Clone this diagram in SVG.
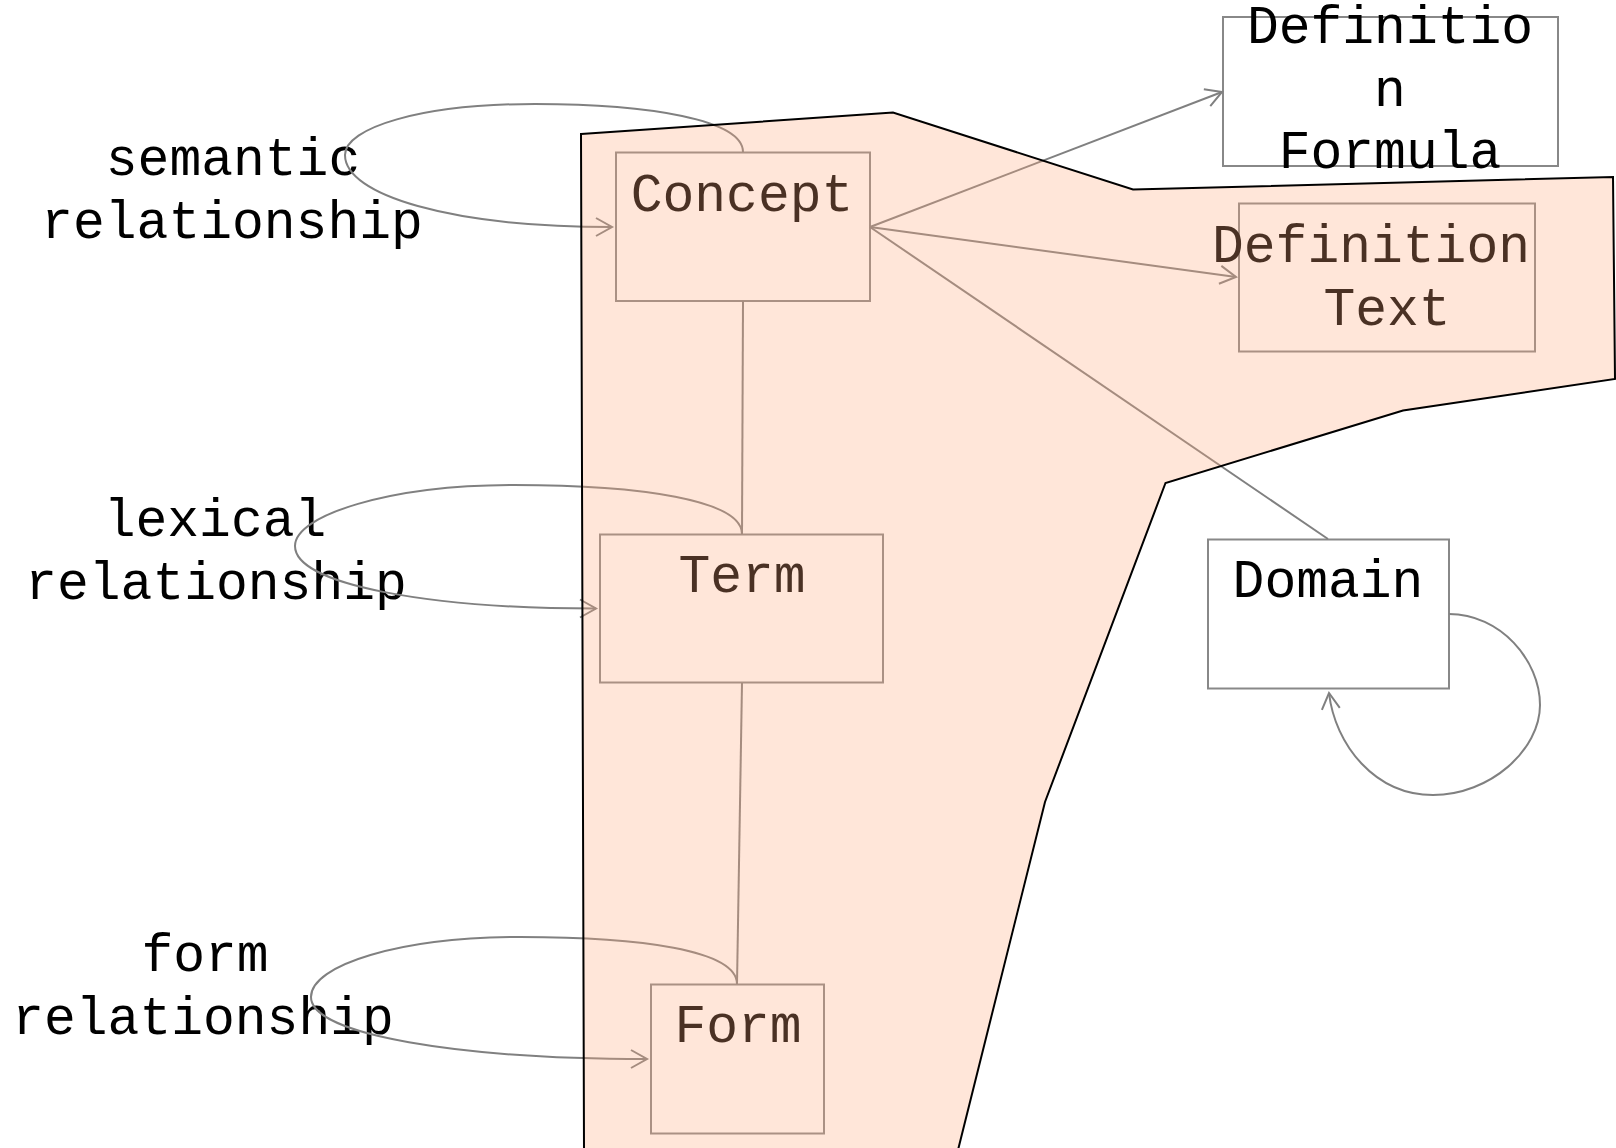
<svg xmlns="http://www.w3.org/2000/svg" width="1616" height="1148" viewBox="0 0 1616 1148">
  <defs>
    <style>
      .box { fill: #ffffff; stroke: #888888; stroke-width: 2; }
      .t { font-family: "Liberation Mono", "Courier New", monospace; font-size: 53px; fill: #000000; text-anchor: middle; }
      .edge { fill: none; stroke: #808080; stroke-width: 2; }
      .region { fill: #ffa97c; fill-opacity: 0.29; stroke: #000000; stroke-width: 2; stroke-linejoin: miter; }
    </style>
    <marker id="arrow" markerUnits="userSpaceOnUse" markerWidth="30" markerHeight="30" viewBox="-20 -15 30 30" refX="0" refY="0" orient="auto">
      <path d="M-16,-9 L0,0 L-16,9" fill="none" stroke="#808080" stroke-width="2"/>
    </marker>
  </defs>
  <rect x="0" y="0" width="1616" height="1148" fill="#ffffff"/>

  <g id="labels">
    <text class="t" x="233" y="175">semantic</text>
    <text class="t" x="232" y="238">relationship</text>
    <text class="t" x="215" y="536">lexical</text>
    <text class="t" x="216" y="599">relationship</text>
    <text class="t" x="205" y="971">form</text>
    <text class="t" x="203" y="1034">relationship</text>
  </g>

  <g id="node-concept">
    <rect class="box" x="616" y="152.5" width="254" height="148.5"/>
    <text class="t" x="742" y="211">Concept</text>
  </g>
  <g id="node-definition-formula">
    <rect class="box" x="1223" y="17" width="335" height="149"/>
    <text class="t" x="1390" y="43">Definitio</text>
    <text class="t" x="1390" y="106">n</text>
    <text class="t" x="1390" y="168">Formula</text>
  </g>
  <g id="node-definition-text">
    <rect class="box" x="1239" y="203.5" width="296" height="148"/>
    <text class="t" x="1371" y="262">Definition</text>
    <text class="t" x="1387" y="325">Text</text>
  </g>
  <g id="node-term">
    <rect class="box" x="600" y="534.5" width="283" height="148"/>
    <text class="t" x="742" y="592">Term</text>
  </g>
  <g id="node-domain">
    <rect class="box" x="1208" y="539.5" width="241" height="149"/>
    <text class="t" x="1328" y="597">Domain</text>
  </g>
  <g id="node-form">
    <rect class="box" x="651" y="984.5" width="173" height="149"/>
    <text class="t" x="738" y="1042">Form</text>
  </g>

  <g id="connectors">
    <path class="edge" d="M743,152 C743,120 650,104 535,104 C420,104 345,128 345,155 C345,195 450,227 612,227" marker-end="url(#arrow)"/>
    <path class="edge" d="M742,534 C742,500 640,485 514,485 C390,485 295,515 295,546 C295,585 430,608.5 596,608.5" marker-end="url(#arrow)"/>
    <path class="edge" d="M737,984 C737,950 640,937 520,937 C400,937 311,965 311,997 C311,1035 460,1059 647,1059" marker-end="url(#arrow)"/>
    <path class="edge" d="M1449,614 C1500,614 1540,660 1540,705 C1540,750 1490,795 1433,795 C1375,795 1335,745 1329,693" marker-end="url(#arrow)"/>
    <path class="edge" d="M870,227 L1222,92" marker-end="url(#arrow)"/>
    <path class="edge" d="M870,227 L1236,277" marker-end="url(#arrow)"/>
    <path class="edge" d="M870,227 L1328,539"/>
    <path class="edge" d="M743,301 L742,534"/>
    <path class="edge" d="M742,683 L737,984"/>
  </g>

  <g id="region">
    <polygon class="region" points="581,134 893,112.5 1133,189.5 1613,177 1615,379 1403,410.5 1165.5,483 1045,802 958,1150 584,1150"/>
  </g>
</svg>
